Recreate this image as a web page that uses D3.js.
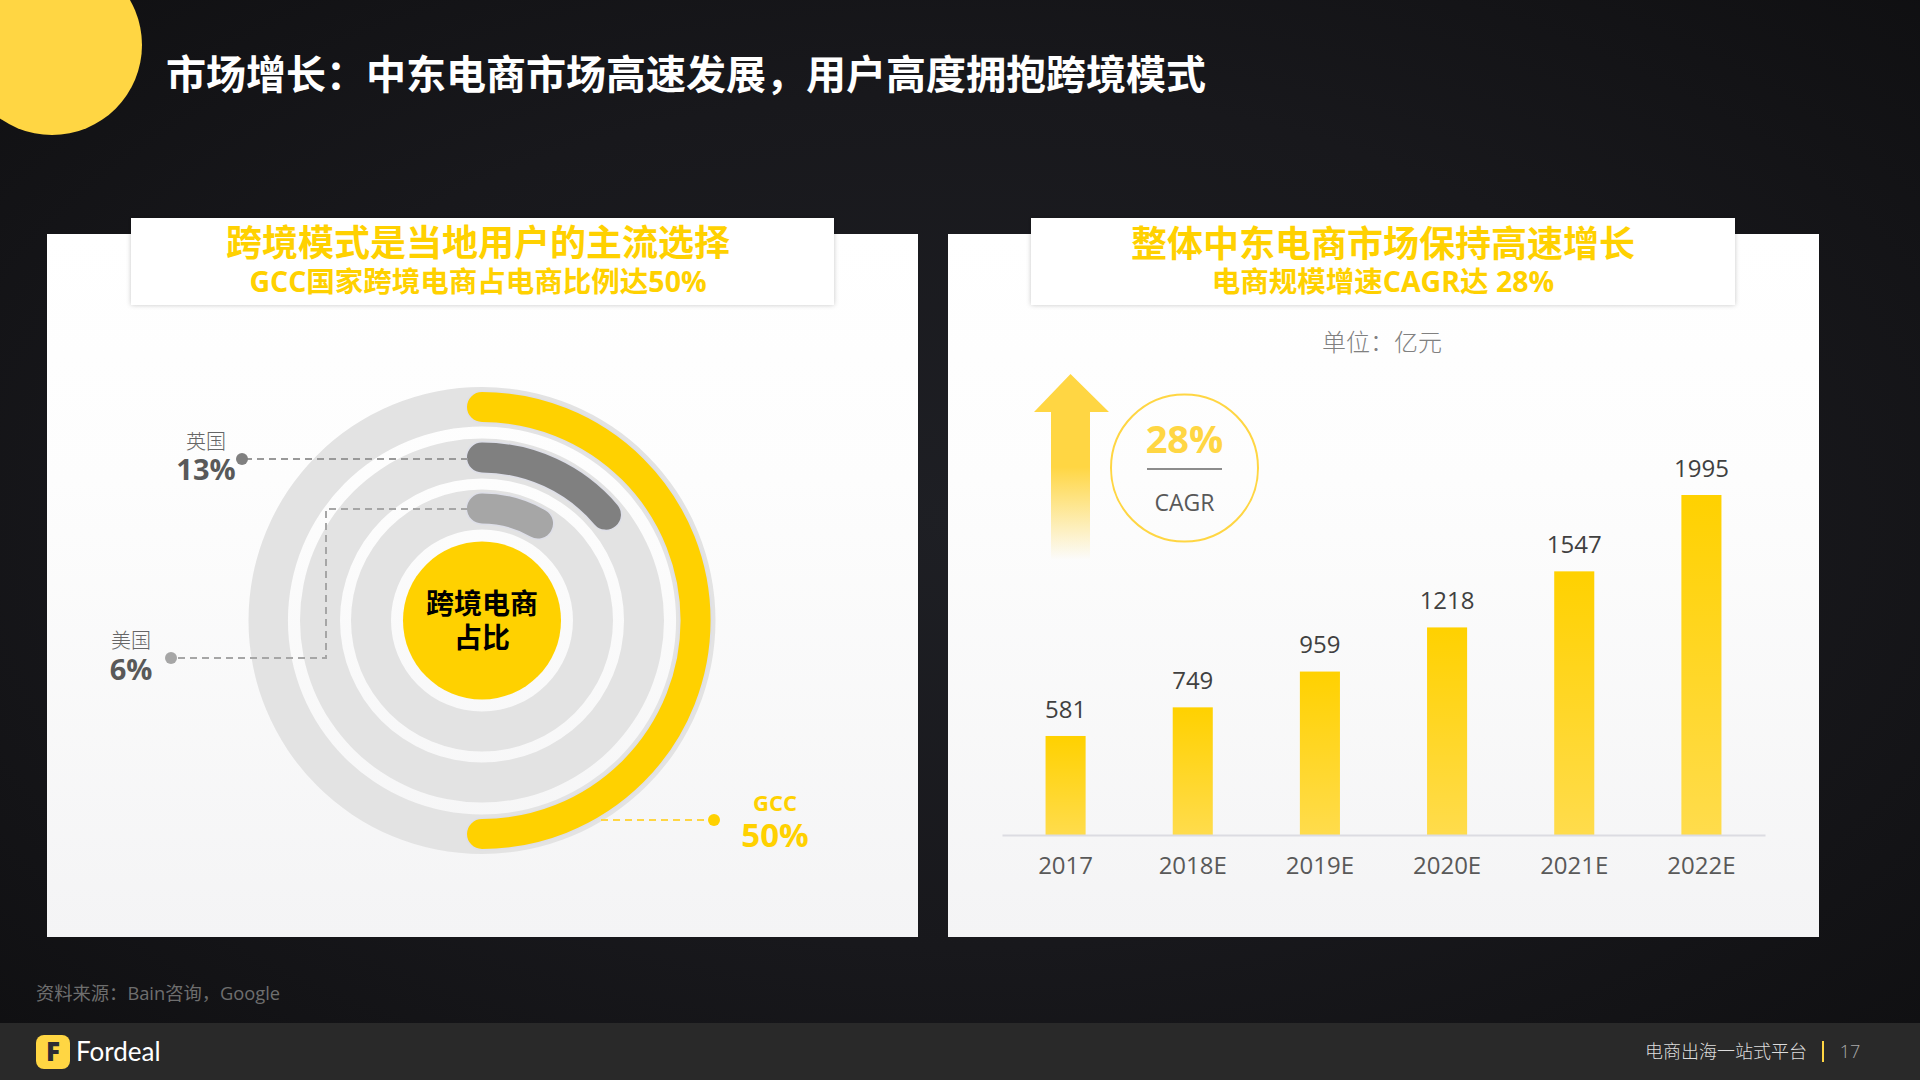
<!DOCTYPE html>
<html lang="zh">
<head>
<meta charset="utf-8">
<title>市场增长</title>
<script src="https://cdnjs.cloudflare.com/ajax/libs/d3/7.8.5/d3.min.js"></script>
<style>
html,body{margin:0;padding:0;background:#15151a;overflow:hidden}
svg{display:block}
text{font-family:"Open Sans","Noto Sans CJK SC",sans-serif}
</style>
</head>
<body>
<svg id="c" width="1920" height="1080" viewBox="0 0 1920 1080"></svg>
<script>
const pageTitle = "市场增长：中东电商市场高速发展，用户高度拥抱跨境模式";
const leftHeading = ["跨境模式是当地用户的主流选择", "GCC国家跨境电商占电商比例达50%"];
const rightHeading = ["整体中东电商市场保持高速增长", "电商规模增速CAGR达 28%"];
const ringNames = ["GCC", "英国", "美国"];
const ringShares = [50, 13, 6];
const centerLines = ["跨境电商", "占比"];
const years = ["2017", "2018E", "2019E", "2020E", "2021E", "2022E"];
const marketSize = [581, 749, 959, 1218, 1547, 1995];
const unitLabel = "单位：亿元";
const cagrValue = "28%";
const cagrLabel = "CAGR";
const sourceNote = "资料来源：Bain咨询，Google";
const brand = "Fordeal";
const slogan = "电商出海一站式平台";
const pageNumber = "17";

const YEL = "#ffd100", YEL2 = "#ffd643";
const svg = d3.select("#c");
const defs = svg.append("defs");
function grad(id, stops, opt) {
  const g = defs.append(opt && opt.radial ? "radialGradient" : "linearGradient").attr("id", id);
  if (opt && opt.radial) g.attr("cx", "50%").attr("cy", "48%").attr("r", "72%");
  else g.attr("x1", 0).attr("y1", 0).attr("x2", 0).attr("y2", 1);
  stops.forEach(s => g.append("stop").attr("offset", s[0]).attr("stop-color", s[1]).attr("stop-opacity", s[2] === undefined ? 1 : s[2]));
}
grad("bg", [[0, "#1e1f24"], [0.55, "#18181c"], [1, "#0f0f11"]], {radial: true});
grad("panel", [[0, "#ffffff"], [0.35, "#fdfdfd"], [1, "#f4f4f5"]]);
grad("bar", [[0, "#ffd100"], [1, "#ffdc4c"]]);
grad("arrow", [[0, YEL2, 1], [0.5, YEL2, 1], [1, YEL2, 0]]);
const sh = defs.append("filter").attr("id", "sh").attr("x", "-5%").attr("y", "-15%").attr("width", "110%").attr("height", "130%");
sh.append("feDropShadow").attr("dx", 0).attr("dy", 0).attr("stdDeviation", 2.5).attr("flood-color", "#000").attr("flood-opacity", 0.22);

function txt(g, s, x, y, size, fill, weight, anchor) {
  return g.append("text").attr("x", x).attr("y", y).attr("dy", "0.36em")
    .attr("font-size", size).attr("fill", fill).attr("font-weight", weight || 400)
    .attr("text-anchor", anchor || "middle").text(s);
}

// page
svg.append("rect").attr("width", 1920).attr("height", 1080).attr("fill", "url(#bg)");
svg.append("circle").attr("cx", 52).attr("cy", 45).attr("r", 90).attr("fill", YEL2);
txt(svg, pageTitle, 166, 75, 40, "#fff", 700, "start");

// panels
[[47, 871, 131, 703, leftHeading, 243, 282, 478], [948, 871, 1031, 704, rightHeading, 244, 282, 1383]].forEach(p => {
  svg.append("rect").attr("x", p[0]).attr("y", 234).attr("width", p[1]).attr("height", 703).attr("fill", "url(#panel)");
  svg.append("rect").attr("x", p[2]).attr("y", 218).attr("width", p[3]).attr("height", 87).attr("fill", "#fff").attr("filter", "url(#sh)");
  txt(svg, p[4][0], p[7], p[5], 36, YEL, 700);
  txt(svg, p[4][1], p[7], p[6], 28.5, YEL, 700);
});

// rings
const ringG = svg.append("g").attr("transform", "translate(482,620.5)");
const trackRadii = [[194, 233.5], [142, 182], [91, 131]];
const barRadii = [213.5, 163, 112];
const ringColors = [YEL, "#808080", "#a6a6a6"];
const sweep = d3.scaleLinear().domain([6, 13, 50]).range([30, 49.5, 180].map(d => d * Math.PI / 180));
const arcLine = (r, a) => { const p = d3.path(); p.arc(0, 0, r, -Math.PI / 2, a - Math.PI / 2); return p.toString(); };
ringG.selectAll("path.track").data(trackRadii).join("path").attr("class", "track")
  .attr("fill", "#e3e3e3")
  .attr("d", d => d3.arc().innerRadius(d[0]).outerRadius(d[1]).startAngle(0).endAngle(2 * Math.PI)());
ringG.selectAll("path.halo").data(ringShares).join("path").attr("class", "halo")
  .attr("fill", "none").attr("stroke", "#dedfe8").attr("stroke-width", 33).attr("stroke-linecap", "round")
  .attr("d", (d, i) => arcLine(barRadii[i], sweep(d)));
ringG.selectAll("path.bar").data(ringShares).join("path").attr("class", "bar")
  .attr("fill", "none").attr("stroke", (d, i) => ringColors[i]).attr("stroke-width", 30).attr("stroke-linecap", "round")
  .attr("d", (d, i) => arcLine(barRadii[i], sweep(d)));
ringG.append("circle").attr("r", 79).attr("fill", YEL);
centerLines.forEach((t, i) => txt(ringG, t, 0, i === 0 ? -17 : 17, 28, "#000", 700));

// leaders
const leader = (pts, c) => svg.append("path").attr("fill", "none").attr("stroke", c).attr("stroke-width", 2)
  .attr("stroke-dasharray", "7 5").attr("d", d3.line()(pts));
leader([[468, 459], [242, 459]], "#999");
leader([[468, 509], [326, 509], [326, 658], [171, 658]], "#a6a6a6");
leader([[601, 820], [714, 820]], YEL2);
svg.append("circle").attr("cx", 242).attr("cy", 459).attr("r", 6).attr("fill", "#808080");
svg.append("circle").attr("cx", 171).attr("cy", 658).attr("r", 6).attr("fill", "#a6a6a6");
svg.append("circle").attr("cx", 714).attr("cy", 820).attr("r", 6).attr("fill", YEL);
txt(svg, ringNames[1], 206, 442, 20, "#666", 300);
txt(svg, ringShares[1] + "%", 206, 470, 29, "#595959", 700);
txt(svg, ringNames[2], 131, 641, 20, "#666", 300);
txt(svg, ringShares[2] + "%", 131, 670, 29, "#595959", 700);
txt(svg, ringNames[0], 775, 803, 22, YEL, 700);
txt(svg, ringShares[0] + "%", 775, 835, 33, YEL, 700);

// bars
const x = d3.scaleBand().domain(years).range([1002, 1765]).paddingInner(0.685).paddingOuter(0.3425);
const y = d3.scaleLinear().domain([0, d3.max(marketSize)]).range([835, 495]);
svg.selectAll("rect.mk").data(marketSize).join("rect").attr("class", "mk")
  .attr("x", (d, i) => x(years[i])).attr("width", x.bandwidth())
  .attr("y", d => y(d)).attr("height", d => y(0) - y(d)).attr("fill", "url(#bar)");
const axis = svg.append("g").attr("transform", "translate(0,835)").call(d3.axisBottom(x).tickSize(0).tickPadding(21.5));
axis.select(".domain").attr("stroke", "#dcdce2").attr("stroke-width", 2);
axis.selectAll(".tick text").attr("font-size", 24).attr("fill", "#595959")
  .attr("font-family", '"Open Sans","Noto Sans CJK SC",sans-serif');
svg.selectAll("text.val").data(marketSize).join("text").attr("class", "val")
  .attr("x", (d, i) => x(years[i]) + x.bandwidth() / 2).attr("y", d => y(d) - 27).attr("dy", "0.36em")
  .attr("text-anchor", "middle").attr("font-size", 24).attr("fill", "#404040").text(d => d);

txt(svg, unitLabel, 1382, 342, 24, "#808080", 300);

// CAGR arrow + badge
svg.append("path").attr("fill", "url(#arrow)")
  .attr("d", d3.line()([[1070.5, 374], [1109, 412], [1090, 412], [1090, 560], [1051, 560], [1051, 412], [1034, 412]]) + "Z");
svg.append("circle").attr("cx", 1184.5).attr("cy", 468).attr("r", 73.5).attr("fill", "none").attr("stroke", YEL2).attr("stroke-width", 2);
txt(svg, cagrValue, 1184.5, 439, 38, YEL2, 700);
svg.append("line").attr("x1", 1147).attr("x2", 1222).attr("y1", 469).attr("y2", 469).attr("stroke", "#666").attr("stroke-width", 1.5);
txt(svg, cagrLabel, 1184.5, 503, 23, "#595959", 400);

// source + footer
txt(svg, sourceNote, 36, 993, 18.3, "#6e6e6e", 400, "start");
svg.append("rect").attr("y", 1023).attr("width", 1920).attr("height", 57).attr("fill", "#292929");
svg.append("rect").attr("x", 36).attr("y", 1035).attr("width", 34).attr("height", 34).attr("rx", 8).attr("fill", YEL2);
svg.append("text").attr("x", 53).attr("y", 1052).attr("dy", "0.36em").attr("text-anchor", "middle")
  .attr("font-size", 26).attr("font-weight", 800).attr("fill", "#2b2b33").text(brand[0]);
txt(svg, brand, 76, 1052, 26, "#fff", 400, "start").style("font-family", "Lato,sans-serif");
txt(svg, slogan, 1807, 1052, 18, "#ddd", 300, "end");
svg.append("line").attr("x1", 1823).attr("x2", 1823).attr("y1", 1041).attr("y2", 1062).attr("stroke", YEL2).attr("stroke-width", 2);
txt(svg, pageNumber, 1850, 1052, 18, "#aaa", 300);
</script>
</body>
</html>
